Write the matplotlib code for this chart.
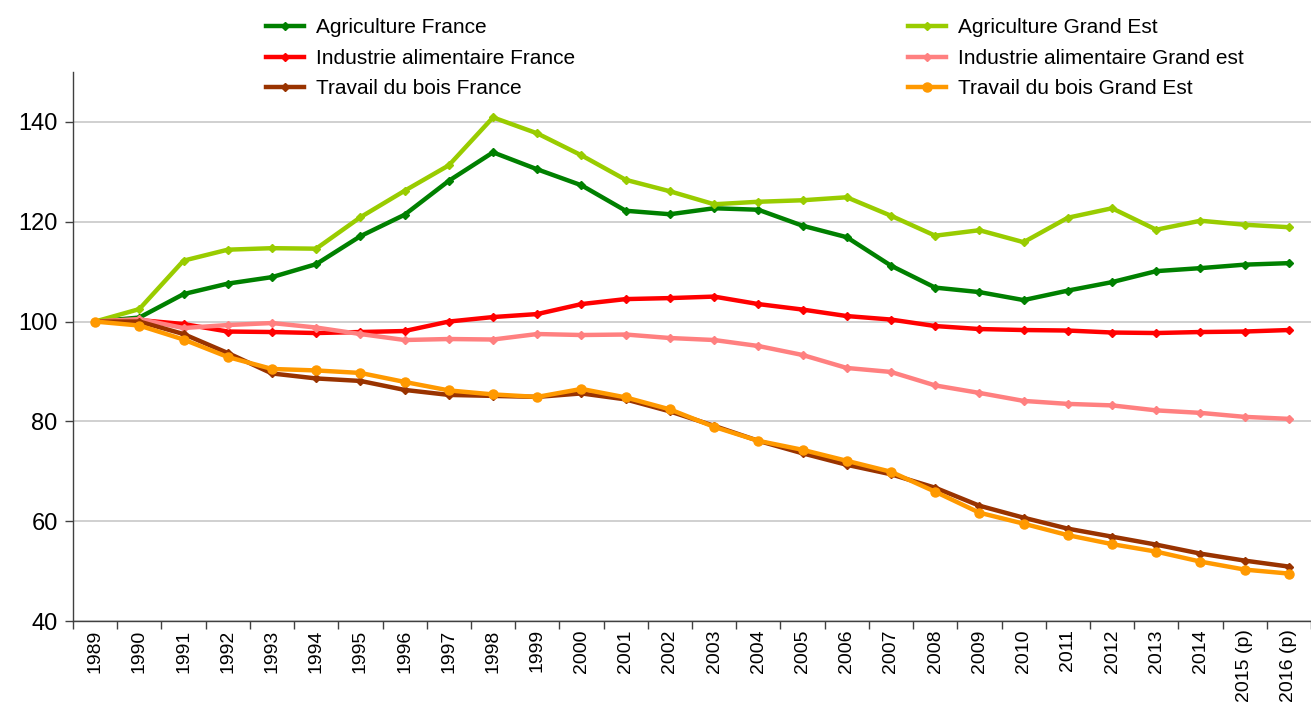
import matplotlib
matplotlib.use("Agg")
import matplotlib.pyplot as plt
from matplotlib.ticker import FixedLocator

# données (indice base 100 en 1989)
annees = ["1989", "1990", "1991", "1992", "1993", "1994", "1995", "1996", "1997",
          "1998", "1999", "2000", "2001", "2002", "2003", "2004", "2005", "2006",
          "2007", "2008", "2009", "2010", "2011", "2012", "2013", "2014",
          "2015 (p)", "2016 (p)"]

agri_france = [100, 100.8, 105.5, 107.6, 108.9, 111.5, 117.1, 121.4, 128.2, 133.9,
               130.5, 127.3, 122.2, 121.5, 122.7, 122.4, 119.2, 116.9, 111.2, 106.8,
               105.9, 104.3, 106.2, 107.9, 110.1, 110.7, 111.4, 111.7]
agri_ge = [100, 102.5, 112.2, 114.4, 114.7, 114.6, 120.9, 126.2, 131.3, 140.9,
           137.7, 133.3, 128.4, 126.1, 123.5, 124.0, 124.3, 124.9, 121.2, 117.2,
           118.3, 115.9, 120.8, 122.7, 118.4, 120.2, 119.4, 118.9]
indus_france = [100, 100.3, 99.5, 98.0, 97.9, 97.7, 97.9, 98.1, 100.0, 100.9,
                101.5, 103.5, 104.5, 104.7, 105.0, 103.5, 102.4, 101.1, 100.4, 99.1,
                98.5, 98.3, 98.2, 97.8, 97.7, 97.9, 98.0, 98.3]
indus_ge = [100, 100.5, 98.7, 99.3, 99.7, 98.8, 97.5, 96.3, 96.5, 96.4,
            97.5, 97.3, 97.4, 96.7, 96.3, 95.1, 93.3, 90.7, 89.9, 87.2,
            85.7, 84.1, 83.5, 83.2, 82.2, 81.7, 80.9, 80.5]
bois_france = [100, 100.0, 97.5, 93.7, 89.6, 88.6, 88.1, 86.3, 85.3, 85.1,
               84.9, 85.6, 84.4, 82.0, 79.1, 76.1, 73.6, 71.3, 69.4, 66.7,
               63.1, 60.7, 58.5, 56.9, 55.3, 53.5, 52.1, 50.9]
bois_ge = [100, 99.2, 96.4, 92.9, 90.5, 90.2, 89.7, 87.9, 86.2, 85.4,
           84.9, 86.5, 84.8, 82.4, 78.9, 76.1, 74.3, 72.1, 69.9, 65.9,
           61.7, 59.5, 57.2, 55.4, 53.9, 51.9, 50.3, 49.5]

plt.rcParams['font.family'] = ['Liberation Sans', 'DejaVu Sans']

fig = plt.figure(figsize=(13.11, 7.09), dpi=100)
ax = fig.add_axes([73 / 1311, 1 - 621 / 709, 1 - 73 / 1311, (621 - 72) / 709])

x = list(range(len(annees)))
lw = 3.2
l1, = ax.plot(x, agri_france, color="#008000", lw=lw, marker="D", ms=4.5, label="Agriculture France")
l2, = ax.plot(x, agri_ge, color="#99CC00", lw=lw, marker="D", ms=4.5, label="Agriculture Grand Est")
l3, = ax.plot(x, indus_france, color="#FF0000", lw=lw, marker="D", ms=4.5, label="Industrie alimentaire France")
l4, = ax.plot(x, indus_ge, color="#FF8080", lw=lw, marker="D", ms=4.5, label="Industrie alimentaire Grand est")
l5, = ax.plot(x, bois_france, color="#993300", lw=lw, marker="D", ms=4.5, label="Travail du bois France")
l6, = ax.plot(x, bois_ge, color="#FF9900", lw=lw, marker="o", ms=6.5, label="Travail du bois Grand Est")

ax.set_xlim(-0.5, len(annees) - 0.5)
ax.set_ylim(40, 150)
ax.set_yticks([40, 60, 80, 100, 120, 140])
ax.set_xticks(x)
ax.set_xticklabels(annees, rotation=90, fontsize=14)
ax.xaxis.set_minor_locator(FixedLocator([i - 0.5 for i in range(len(annees) + 1)]))
ax.tick_params(axis="x", which="major", length=0, pad=6)
ax.tick_params(axis="x", which="minor", length=6, width=1, color="#404040")
ax.tick_params(axis="y", length=6, width=1, color="#404040", labelsize=17, pad=5)

ax.grid(axis="y", color="#C8C8C8", lw=1.2)
ax.set_axisbelow(True)
for s in ["top", "right"]:
    ax.spines[s].set_visible(False)
for s in ["left", "bottom"]:
    ax.spines[s].set_color("#404040")
    ax.spines[s].set_linewidth(1)

leg_kw = dict(frameon=False, fontsize=15, borderpad=0, handlelength=1.8,
              handletextpad=0.6, labelspacing=0.55, loc="upper left")
fig.legend(handles=[l1, l3, l5], bbox_to_anchor=(256 / 1311, 1 - 8 / 709), **leg_kw)
fig.legend(handles=[l2, l4, l6], bbox_to_anchor=(898 / 1311, 1 - 8 / 709), **leg_kw)

fig.savefig("out.png", dpi=100)
